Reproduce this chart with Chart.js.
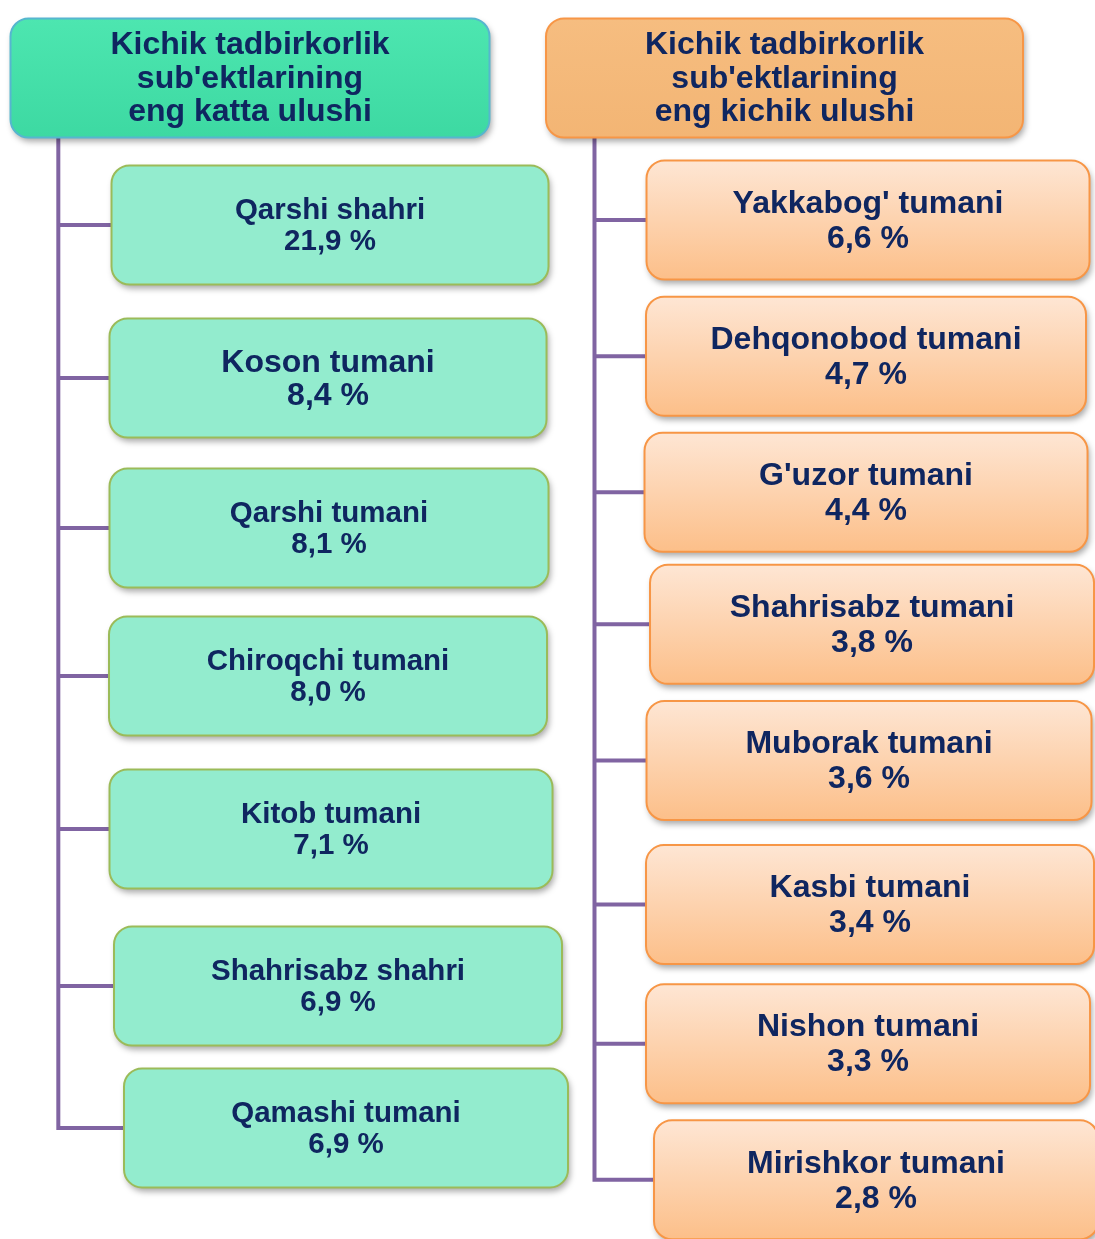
<!DOCTYPE html>
<html>
<head>
<meta charset="utf-8">
<script src="https://cdn.jsdelivr.net/npm/chart.js@4.4.0/dist/chart.umd.min.js"></script>
<style>
  html, body { margin: 0; padding: 0; background: #fff; }
  canvas { display: block; }
</style>
</head>
<body>
<canvas id="orgChart" width="1095" height="1239"></canvas>
<script>
// Data
const leftTitle = ['Kichik tadbirkorlik', "sub'ektlarining", 'eng katta ulushi'];
const rightTitle = ['Kichik tadbirkorlik', "sub'ektlarining", 'eng kichik ulushi'];
const leftNames = ['Qarshi shahri', 'Koson tumani', 'Qarshi tumani', 'Chiroqchi tumani', 'Kitob tumani', 'Shahrisabz shahri', 'Qamashi tumani'];
const leftShares = [21.9, 8.4, 8.1, 8.0, 7.1, 6.9, 6.9];
const rightNames = ["Yakkabog' tumani", 'Dehqonobod tumani', "G'uzor tumani", 'Shahrisabz tumani', 'Muborak tumani', 'Kasbi tumani', 'Nishon tumani', 'Mirishkor tumani'];
const rightShares = [6.6, 4.7, 4.4, 3.8, 3.6, 3.4, 3.3, 2.8];

// Styles (box nudges and widths per row, in px)
const FONT = '"Liberation Sans", Arial, sans-serif';
const TEXT = '#0f2660';
const LINE = '#8064a2';
const leftFont = [29.5, 32, 29.5, 29.5, 29.5, 29.5, 29.5];
const leftShift = [0, -2, -1, -2, 1, 8, 16];
const leftLift = [0, 2.5, 2, -0.5, 2, 8.5, 0];
const leftWidth = [437, 437, 439, 438, 443, 448, 444];
const rightShift = [0, -2, -2, 4, 1, 2, 0, 8];
const rightLift = [0, -1, -2, -7, -8, -1, 1, 0];
const rightWidth = [443, 440, 443, 444, 445, 448, 444, 444];

const fmt = v => v.toFixed(1).replace('.', ',') + ' %';

function roundRect(ctx, x, y, w, h, r) {
  ctx.beginPath();
  ctx.moveTo(x + r, y);
  ctx.arcTo(x + w, y, x + w, y + h, r);
  ctx.arcTo(x + w, y + h, x, y + h, r);
  ctx.arcTo(x, y + h, x, y, r);
  ctx.arcTo(x, y, x + w, y, r);
  ctx.closePath();
}

function drawBox(ctx, cx, cy, w, h, fill, stroke) {
  const x = cx - w / 2, y = cy - h / 2;
  ctx.save();
  ctx.shadowColor = 'rgba(0,0,0,0.35)';
  ctx.shadowBlur = 6;
  ctx.shadowOffsetX = 2;
  ctx.shadowOffsetY = 4;
  roundRect(ctx, x, y, w, h, 18);
  ctx.fillStyle = typeof fill === 'function' ? fill(y, h) : fill;
  ctx.fill();
  ctx.restore();
  roundRect(ctx, x, y, w, h, 18);
  ctx.lineWidth = 2;
  ctx.strokeStyle = stroke;
  ctx.stroke();
}

function drawLines(ctx, lines, cx, cy, size, gap) {
  ctx.fillStyle = TEXT;
  ctx.font = 'bold ' + size + 'px ' + FONT;
  ctx.textAlign = 'center';
  ctx.textBaseline = 'middle';
  const start = cy - (lines.length - 1) * gap / 2;
  lines.forEach((t, i) => ctx.fillText(t, cx, start + i * gap));
}

const diagramPlugin = {
  id: 'diagram',
  afterDatasetsDraw(chart) {
    const ctx = chart.ctx;
    const x = chart.scales.x;
    const left = chart.getDatasetMeta(0).data.map((p, i) => ({ x: p.x + leftShift[i], y: p.y + leftLift[i], w: leftWidth[i] }));
    const right = chart.getDatasetMeta(1).data.map((p, i) => ({ x: p.x + rightShift[i], y: p.y + rightLift[i], w: rightWidth[i] }));
    const bh = 119;

    // connectors
    ctx.save();
    ctx.strokeStyle = LINE;
    ctx.lineWidth = 4;
    ctx.lineCap = 'square';
    const lx = x.getPixelForValue(-0.505);
    const rx = x.getPixelForValue(0.4916);
    ctx.beginPath();
    ctx.moveTo(lx, 138);
    ctx.lineTo(lx, left[left.length - 1].y);
    left.forEach(p => { ctx.moveTo(lx, p.y); ctx.lineTo(p.x - p.w / 2, p.y); });
    ctx.moveTo(rx, 138);
    ctx.lineTo(rx, right[right.length - 1].y);
    right.forEach(p => { ctx.moveTo(rx, p.y); ctx.lineTo(p.x - p.w / 2, p.y); });
    ctx.stroke();
    ctx.restore();

    // headers
    const hl = x.getPixelForValue(-0.1487), hr = x.getPixelForValue(0.8448);
    drawBox(ctx, hl, 78, 479, 119, (y, h) => {
      const g = ctx.createLinearGradient(0, y, 0, y + h);
      g.addColorStop(0, '#4de6b0'); g.addColorStop(1, '#3dd9a2');
      return g;
    }, '#56b6cf');
    drawBox(ctx, hr, 78, 477, 119, (y, h) => {
      const g = ctx.createLinearGradient(0, y, 0, y + h);
      g.addColorStop(0, '#f6bd80'); g.addColorStop(1, '#f3b574');
      return g;
    }, '#f79646');
    drawLines(ctx, leftTitle, hl, 79, 32, 33.5);
    drawLines(ctx, rightTitle, hr, 79, 32, 33.5);

    // left boxes
    left.forEach((p, i) => {
      drawBox(ctx, p.x, p.y, p.w, bh, '#93ecce', '#9bbb59');
      const s = leftFont[i];
      drawLines(ctx, [leftNames[i], fmt(leftShares[i])], p.x, p.y + 1.5, s, s * 1.03);
    });
    // right boxes
    right.forEach((p, i) => {
      drawBox(ctx, p.x, p.y, p.w, bh, (y, h) => {
        const g = ctx.createLinearGradient(0, y, 0, y + h);
        g.addColorStop(0, '#fee6d4'); g.addColorStop(1, '#fcbf89');
        return g;
      }, '#f79646');
      drawLines(ctx, [rightNames[i], fmt(rightShares[i])], p.x, p.y + 1.5, 32, 35);
    });
  }
};

new Chart(document.getElementById('orgChart'), {
  type: 'scatter',
  data: {
    datasets: [
      { label: 'eng katta', data: leftShares.map((v, i) => ({ x: 0, y: i, v })), yAxisID: 'yL', pointRadius: 0 },
      { label: 'eng kichik', data: rightShares.map((v, i) => ({ x: 1, y: i, v })), yAxisID: 'yR', pointRadius: 0 }
    ]
  },
  options: {
    responsive: false,
    animation: false,
    layout: { padding: 0 },
    plugins: { legend: { display: false }, tooltip: { enabled: false } },
    scales: {
      x: { type: 'linear', display: false, min: -0.6134, max: 1.4219 },
      yL: { type: 'linear', display: false, reverse: true, min: -1.495, max: 6.738 },
      yR: { type: 'linear', display: false, reverse: true, min: -1.605, max: 7.432 }
    }
  },
  plugins: [diagramPlugin]
});
</script>
</body>
</html>
